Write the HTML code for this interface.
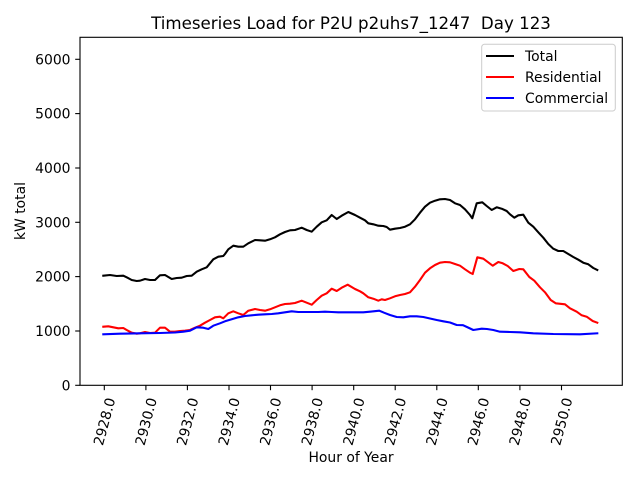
<!DOCTYPE html>
<html><head><meta charset="utf-8"><style>
html,body{margin:0;padding:0;background:#fff;}
svg{display:block;}
text{font-family:"DejaVu Sans","Liberation Sans",sans-serif;fill:#000;}
</style></head><body>
<svg width="640" height="480" viewBox="0 0 640 480" xmlns="http://www.w3.org/2000/svg">
<rect x="0" y="0" width="640" height="480" fill="#fff"/>
<text x="351" y="29" font-size="16.67" text-anchor="middle" style="white-space:pre" xml:space="preserve">Timeseries Load for P2U p2uhs7_1247  Day 123</text>

<g fill="none" stroke-width="2.08" stroke-linejoin="round" stroke-linecap="square">
<polyline stroke="#000" points="103.3,275.7 110,275 116.7,276 123.3,275.7 126.7,277.3 131.7,280 136.7,281 140,280.7 145,279 150,280 155,280 160,275.3 165,275 171.7,279 176.7,278 181.7,277.7 186.7,276 191.7,275.7 196.7,271.7 201.7,269.3 206.7,267.3 213.3,259.3 218.3,256.7 223.3,256 225,254 228.3,249.3 233.3,245.7 238.3,246.7 243.3,246.7 248.3,243.3 255,240 260,240.3 265,240.7 270,239.3 275,237.3 280,234.3 285,232 290,230.3 295,230 301.7,227.7 306.7,230 311.7,231.7 316.7,226.7 321.7,222.3 326.7,220.3 331.7,215 336.7,219 341.7,215.7 348.3,212 355,215 360,217.7 365,220.3 368.3,223.3 373.3,224.3 378.3,225.7 383.3,226 386.7,227 390,229.7 395,228.7 400,228 405,226.7 410,224.3 415,219.3 420,212.7 425,206.7 430,202.7 435,200.7 440,199.3 445,199 450,200 455,203.3 460,205 465,209.3 470,215 472.3,218.3 476.7,203.3 482.3,202.3 486.7,206 491.7,210 496.7,207.3 501.7,208.7 506.7,211 510,214.3 514.3,217.7 518.3,215.3 523.3,214.7 528.3,222.7 533.3,226.7 538.3,232.3 543.3,237.7 548.3,244 553.3,248.7 558.3,251 563.3,251 568.3,254 573.3,257 578.3,259.7 583.3,262.7 588.3,264.3 593.3,268 597.3,270"/>
<polyline stroke="#ff0000" points="103.3,326.7 108.3,326.3 113.3,327.3 118.3,328.3 123.3,328 126.7,330 131.7,332.7 136.7,333.7 140,333.3 145,332 150,333 155,332.7 160,327.7 165,327.7 170,331.7 175,331.7 180,331 185,330.7 190,330 195,327.7 200,325.7 205,322.7 210,320 215,317.3 220,316.7 223.3,318.3 228.3,313.3 233.3,311.3 238.3,313.3 243.3,315 248.3,310.7 255,309 260,310 265,310.7 270,309.3 275,307.3 280,305.3 285,304 290,303.7 295,303 301.7,300.7 306.7,302.7 311.7,304.7 316.7,300 321.7,295.7 326.7,293.3 331.7,288.7 336.7,291 341.7,287.7 347.7,284.7 355,289 360,291.3 363.3,293.3 368.3,297.3 373.3,298.7 378.3,300.7 381.7,299.3 385,300 390,298.3 395,296.3 400,295 405,294 410,292.3 415,286.7 420,280 425,272.7 430,268.3 435,265 440,262.7 445,262 450,262.3 455,264 460,265.7 465,269.3 470,272.7 472.7,274 477.3,257.3 483.3,258.7 492.7,265.7 498.3,262 502.7,263.3 507.7,266 513.3,271 519.3,269 523.3,269.3 529.3,277 534.3,280.7 540,287.3 545,292.3 550.7,300 555.7,303.3 565,304.3 570,308.3 576.7,311.7 581.7,315.3 586.7,316.7 592.7,321 597.3,322.7"/>
<polyline stroke="#0000ff" points="103.3,334.3 120,333.7 140,333.3 160,333 175,332.5 183.3,331.7 190,330.7 196.7,327.3 203.3,327.7 208.3,329 213.3,325.7 220,323.3 225,321.3 231.7,319.3 238.3,317.3 245,316 251.7,315.3 258.3,314.7 265,314.3 271.7,314 278.3,313.3 285,312.3 291.7,311.3 298.3,312 305,312 311.7,312 318.3,312 325,311.7 331.7,312 338.3,312.3 345,312.3 353.3,312.3 363.3,312.3 370,311.7 379.3,310.7 384,312.7 390,315 396.7,317 403.3,317.3 410,316.3 416.7,316.3 423.3,317 430,318.5 436.7,320 443.3,321.3 450,322.5 456.7,325 463,325.2 468,327.5 473.3,330 481.7,328.7 487,329 493.3,330 500,331.7 510,332 520,332.3 533.3,333.3 553.3,334 580,334.3 597.3,333.3"/>
</g>

<rect x="80" y="37.3" width="542.3" height="348" fill="none" stroke="#000" stroke-width="1.1"/>

<g stroke="#000" stroke-width="1.1">
<line x1="75.2" y1="385.3" x2="80" y2="385.3"/>
<line x1="75.2" y1="331" x2="80" y2="331"/>
<line x1="75.2" y1="276.6" x2="80" y2="276.6"/>
<line x1="75.2" y1="222.3" x2="80" y2="222.3"/>
<line x1="75.2" y1="168" x2="80" y2="168"/>
<line x1="75.2" y1="113.6" x2="80" y2="113.6"/>
<line x1="75.2" y1="59.3" x2="80" y2="59.3"/>
<line x1="104.3" y1="385.3" x2="104.3" y2="390.2"/>
<line x1="145.9" y1="385.3" x2="145.9" y2="390.2"/>
<line x1="187.4" y1="385.3" x2="187.4" y2="390.2"/>
<line x1="229" y1="385.3" x2="229" y2="390.2"/>
<line x1="270.5" y1="385.3" x2="270.5" y2="390.2"/>
<line x1="312.1" y1="385.3" x2="312.1" y2="390.2"/>
<line x1="353.7" y1="385.3" x2="353.7" y2="390.2"/>
<line x1="395.2" y1="385.3" x2="395.2" y2="390.2"/>
<line x1="436.8" y1="385.3" x2="436.8" y2="390.2"/>
<line x1="478.3" y1="385.3" x2="478.3" y2="390.2"/>
<line x1="519.9" y1="385.3" x2="519.9" y2="390.2"/>
<line x1="561.5" y1="385.3" x2="561.5" y2="390.2"/>
</g>

<g font-size="13.9" text-anchor="end">
<text x="70.5" y="390.3">0</text>
<text x="70.5" y="336">1000</text>
<text x="70.5" y="281.6">2000</text>
<text x="70.5" y="227.3">3000</text>
<text x="70.5" y="173">4000</text>
<text x="70.5" y="118.6">5000</text>
<text x="70.5" y="64.3">6000</text>
</g>

<g font-size="13.9" text-anchor="middle">
<text x="109.1" y="422.8" transform="rotate(-75 109.1 422.8)">2928.0</text>
<text x="150.7" y="422.8" transform="rotate(-75 150.7 422.8)">2930.0</text>
<text x="192.2" y="422.8" transform="rotate(-75 192.2 422.8)">2932.0</text>
<text x="233.8" y="422.8" transform="rotate(-75 233.8 422.8)">2934.0</text>
<text x="275.3" y="422.8" transform="rotate(-75 275.3 422.8)">2936.0</text>
<text x="316.9" y="422.8" transform="rotate(-75 316.9 422.8)">2938.0</text>
<text x="358.5" y="422.8" transform="rotate(-75 358.5 422.8)">2940.0</text>
<text x="400" y="422.8" transform="rotate(-75 400 422.8)">2942.0</text>
<text x="441.6" y="422.8" transform="rotate(-75 441.6 422.8)">2944.0</text>
<text x="483.1" y="422.8" transform="rotate(-75 483.1 422.8)">2946.0</text>
<text x="524.7" y="422.8" transform="rotate(-75 524.7 422.8)">2948.0</text>
<text x="566.3" y="422.8" transform="rotate(-75 566.3 422.8)">2950.0</text>
</g>

<text x="351" y="462" font-size="13.9" text-anchor="middle">Hour of Year</text>
<text x="25" y="211" font-size="13.9" text-anchor="middle" transform="rotate(-90 25 211)">kW total</text>

<rect x="481.7" y="44.3" width="133.6" height="66.7" rx="2.8" ry="2.8" fill="#fff" fill-opacity="0.8" stroke="#cccccc" stroke-width="1"/>
<g stroke-width="2.08">
<line x1="486" y1="56" x2="514" y2="56" stroke="#000"/>
<line x1="486" y1="77" x2="514" y2="77" stroke="#ff0000"/>
<line x1="486" y1="98" x2="514" y2="98" stroke="#0000ff"/>
</g>
<g font-size="13.9">
<text x="525" y="61">Total</text>
<text x="525" y="82">Residential</text>
<text x="525" y="103">Commercial</text>
</g>
</svg>
</body></html>
